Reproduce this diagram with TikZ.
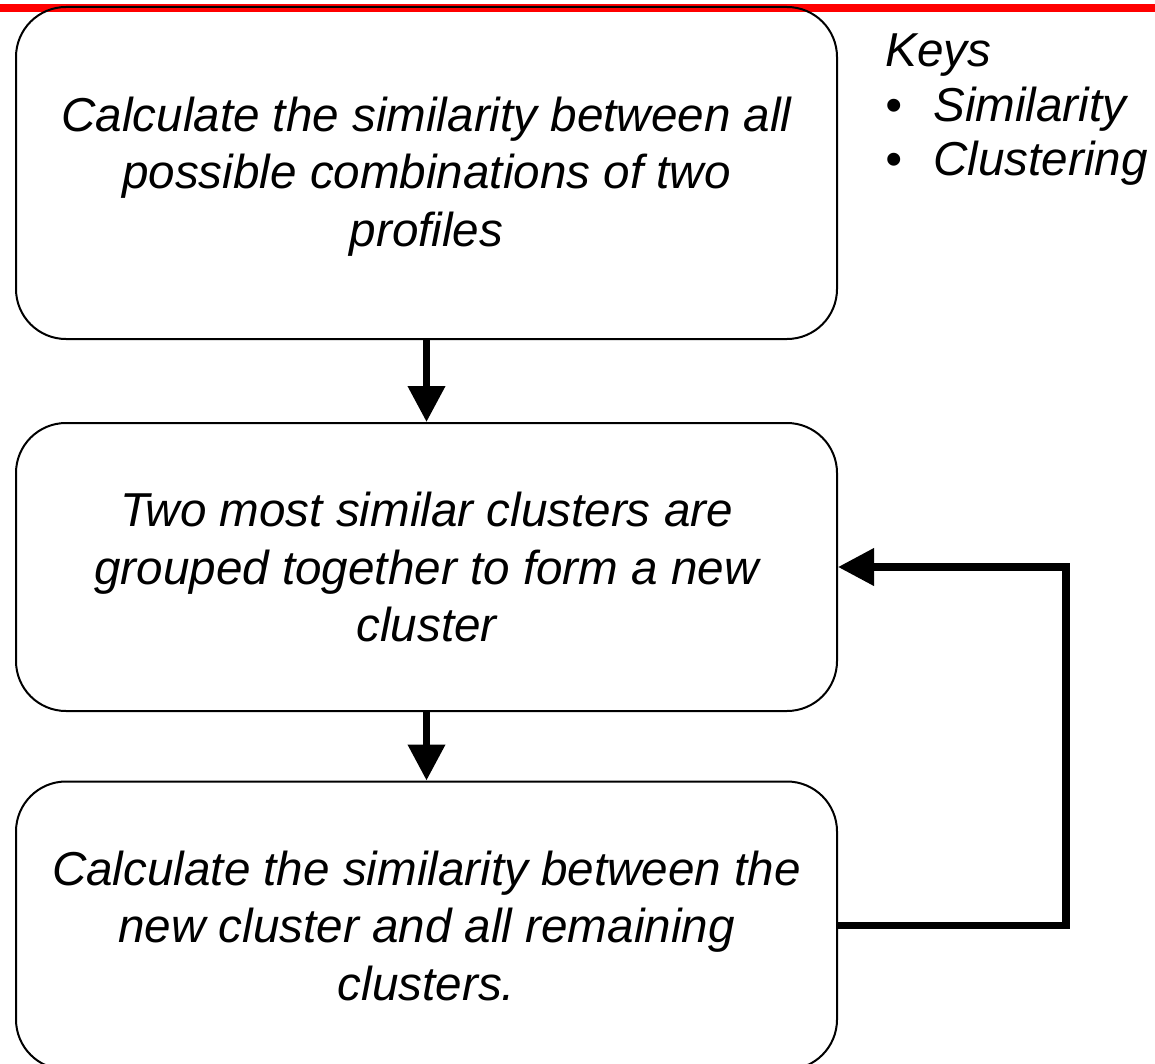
\documentclass[tikz,border=0pt]{standalone}
\usepackage{fontspec}
\setmainfont{Liberation Sans}
\usetikzlibrary{arrows.meta}

\tikzset{
  stepbox/.style={draw=black, line width=1pt, rounded corners=25pt,
    minimum width=410.5pt, inner sep=0pt, align=center,
    font=\fontsize{23.8pt}{28.75pt}\selectfont\itshape},
  flow/.style={line width=3.6pt, -{Triangle[length=18pt,width=18pt]}},
  keytext/.style={anchor=base west, inner sep=0pt,
    font=\fontsize{23.8pt}{27pt}\selectfont\itshape}
}

\begin{document}
\begin{tikzpicture}[x=0.5pt,y=-0.5pt]
  % page frame
  \useasboundingbox (0,0) rectangle (1155,1064);
  \clip (0,0) rectangle (1155,1064);

  % red rule along the top
  \fill[red] (0,4) rectangle (1155,11.7);

  % process steps (a strut on the first line sets the text a little lower)
  \node[stepbox, minimum height=166pt] (calc) at (426.5,173)
    {\rule{0pt}{20.5pt}Calculate the similarity between all\\possible combinations of two\\profiles};
  \node[stepbox, minimum height=144pt] (group) at (426.5,567)
    {Two most similar clusters are\\grouped together to form a new\\cluster};
  \node[stepbox, minimum height=144pt] (update) at (426.5,925.5)
    {Calculate the similarity between the\\new cluster and all remaining\\clusters.};

  % flow between steps
  \draw[flow] (calc.south) -- (group.north);
  \draw[flow] (group.south) -- (update.north);

  % loop back from the update step to the grouping step
  \coordinate (loopx) at (1066,0);
  \draw[flow] (update.east) -- (update.east -| loopx) -- (group.east -| loopx) -- (group.east);

  % legend
  \node[keytext] (keys) at (885,66.7) {Keys};
  \node[keytext] (key1) at (885,121.7) {\makebox[24pt][l]{\textbullet}Similarity};
  \node[keytext] (key2) at (885,175.5) {\makebox[24pt][l]{\textbullet}Clustering};
\end{tikzpicture}
\end{document}
